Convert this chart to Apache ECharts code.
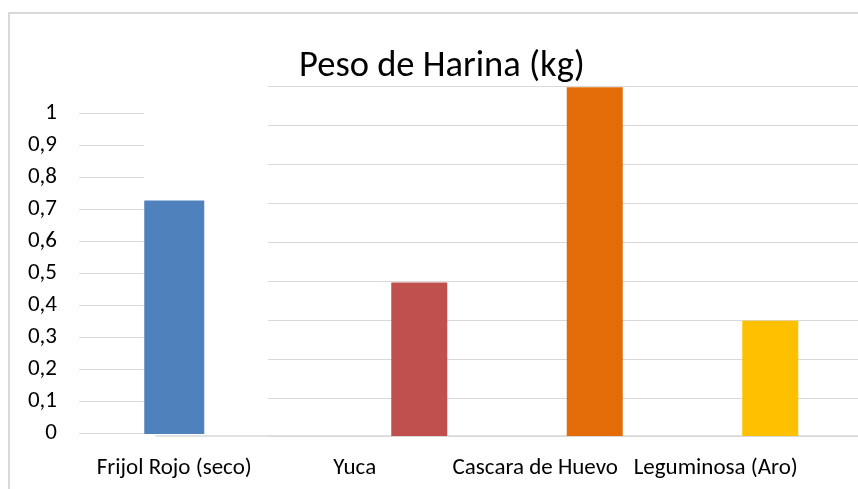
<!DOCTYPE html>
<html>
<head>
<meta charset="utf-8">
<script src="https://cdn.jsdelivr.net/npm/echarts@6/dist/echarts.min.js"></script>
<style>
  html, body { margin: 0; padding: 0; background: #fff; }
  #chart { width: 858px; height: 489px; }
</style>
</head>
<body>
<div id="chart"></div>
<script>
// datos
const categorias = ['Frijol Rojo (seco)', 'Yuca', 'Cascara de Huevo', 'Leguminosa (Aro)']
const pesos = [0.73, 0.48, 1.09, 0.36]
const colores = ['#4F81BD', '#C0504D', '#E36C09', '#FFC000']

const fuente = 'Carlito, Calibri, Lato, sans-serif'
const gris = '#d9d9d9'

// formato con coma decimal
const fmt = v => String(+(+v).toFixed(1)).replace('.', ',')

const chart = echarts.init(document.getElementById('chart'), null, { renderer: 'canvas' })

const hiddenCat = gridIndex => ({
  type: 'category', gridIndex, data: categorias,
  axisLine: { show: false }, axisTick: { show: false }, axisLabel: { show: false }
})
const hiddenVal = (gridIndex, max) => ({
  type: 'value', gridIndex, min: 0, max,
  axisLine: { show: false }, axisTick: { show: false }, axisLabel: { show: false },
  splitLine: { show: false }
})

const option = {
  backgroundColor: '#fff',
  animation: false,
  title: {
    text: 'Peso de Harina (kg)',
    left: 437,
    top: 43,
    textAlign: 'center',
    textStyle: { fontFamily: fuente, fontSize: 36.5, fontWeight: 'normal', color: '#000' }
  },
  graphic: [{
    type: 'rect',
    shape: { x: 9, y: 13, width: 900, height: 520 },
    style: { fill: 'none', stroke: gris, lineWidth: 2 },
    silent: true
  }],
  grid: [
    // eje Y con etiquetas
    { left: 79, right: 714, top: 113.7, bottom: 55.3 },
    // etiquetas de categorias + primera barra
    { left: 84, right: 52, top: 82, bottom: 55 },
    // resto de barras
    { left: 156, right: -10, top: 84, bottom: 53 },
    // lineas de cuadricula derecha
    { left: 268, right: 0, top: 86.7, bottom: 52.3 }
  ],
  xAxis: [
    hiddenCat(0),
    {
      type: 'category', gridIndex: 1, data: categorias,
      axisLine: { show: false }, axisTick: { show: false },
      axisLabel: { margin: 23, color: '#000', fontFamily: fuente, fontSize: 23, interval: 0 }
    },
    {
      type: 'category', gridIndex: 2, data: categorias,
      axisLine: { show: true, lineStyle: { color: gris, width: 1.5 } },
      axisTick: { show: false }, axisLabel: { show: false }
    },
    hiddenCat(3)
  ],
  yAxis: [
    {
      type: 'value', gridIndex: 0, min: 0, max: 1, interval: 0.1,
      axisLine: { show: false }, axisTick: { show: false },
      axisLabel: { margin: 22, color: '#000', fontFamily: fuente, fontSize: 23, formatter: fmt },
      splitLine: { lineStyle: { color: gris, width: 1.2 } }
    },
    hiddenVal(1, 1.1),
    hiddenVal(2, 1.1),
    {
      type: 'value', gridIndex: 3, min: 0, max: 9, interval: 1,
      axisLine: { show: false }, axisTick: { show: false }, axisLabel: { show: false },
      splitLine: { lineStyle: { color: gris, width: 1.2 } }
    }
  ],
  series: [
    {
      type: 'bar', xAxisIndex: 1, yAxisIndex: 1, barWidth: 60,
      data: pesos.map((v, i) => i === 0 ? { value: v, itemStyle: { color: colores[i] } } : '-')
    },
    {
      type: 'bar', xAxisIndex: 2, yAxisIndex: 2, barWidth: 56,
      data: pesos.map((v, i) => i > 0 ? { value: v, itemStyle: { color: colores[i] } } : '-')
    }
  ]
}

chart.setOption(option)
</script>
</body>
</html>
